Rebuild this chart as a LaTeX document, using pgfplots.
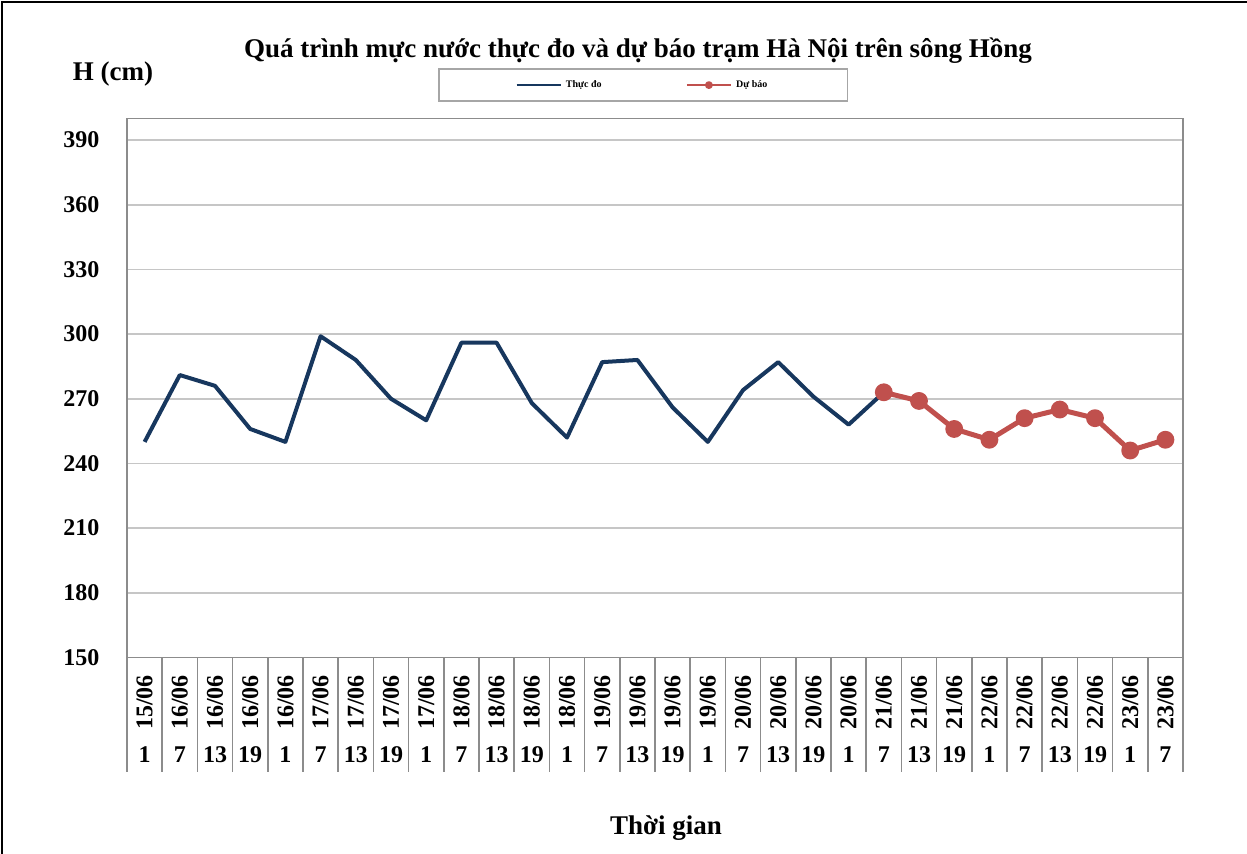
\documentclass[border=0pt]{standalone}
\usepackage{pgfplots}
\pgfplotsset{compat=1.18}
\usepackage{fontspec}
\setmainfont{Liberation Serif}
\definecolor{navy}{HTML}{17375E}
\definecolor{fred}{HTML}{C0504D}
\newcommand{\rb}[1]{\rotatebox{90}{#1}}
\begin{document}
\begin{tikzpicture}[font=\bfseries]
\useasboundingbox (-63.5pt,-98.25pt) rectangle (560pt,328.75pt);
\draw[black, line width=1.2pt] (-62.5pt,-99pt) -- (-62.5pt,327.8pt) -- (561pt,327.8pt);
\begin{axis}[
  at={(0,0)}, anchor=south west, scale only axis,
  width=528pt, height=269.5pt,
  xmin=0, xmax=30, ymin=150, ymax=400,
  ytick={150,180,...,390},
  /pgf/number format/assume math mode=true,
  ymajorgrids, grid style={gray!45, line width=0.8pt},
  axis line style={gray!90, line width=0.8pt},
  ytick style={draw=none},
  tick label style={font=\fontsize{12}{14}\selectfont\bfseries},
  yticklabel style={xshift=-6pt},
  xtick={0.5,1.5,...,29.5},
  xticklabels={\rb{15/06},\rb{16/06},\rb{16/06},\rb{16/06},\rb{16/06},\rb{17/06},\rb{17/06},\rb{17/06},\rb{17/06},\rb{18/06},\rb{18/06},\rb{18/06},\rb{18/06},\rb{19/06},\rb{19/06},\rb{19/06},\rb{19/06},\rb{20/06},\rb{20/06},\rb{20/06},\rb{20/06},\rb{21/06},\rb{21/06},\rb{21/06},\rb{22/06},\rb{22/06},\rb{22/06},\rb{22/06},\rb{23/06},\rb{23/06}},
  xticklabel style={anchor=north, yshift=-1pt},
  major x tick style={draw=none},
  minor xtick={0,1,...,30},
  minor x tick style={gray!90, line width=0.8pt},
  minor tick length=57pt,
  tick align=outside,
  xtick pos=bottom,
  extra x ticks={0.5,1.5,...,29.5},
  extra x tick labels={1,7,13,19,1,7,13,19,1,7,13,19,1,7,13,19,1,7,13,19,1,7,13,19,1,7,13,19,1,7},
  extra x tick style={major tick length=0pt, xticklabel style={yshift=-40pt}},
  legend columns=2,
  legend style={at={(axis description cs:0.489,1.062)}, anchor=center, draw=gray!70, line width=0.8pt,
    font=\fontsize{5}{6}\selectfont\bfseries, inner xsep=38pt, inner ysep=3.5pt,
    /tikz/every even column/.append style={column sep=40pt}},
  legend image code/.code={\draw[mark repeat=2,mark phase=2,#1, line width=1.3pt, mark size=1.3pt] plot coordinates {(0pt,0pt) (11pt,0pt) (22pt,0pt)};},
]
\addplot[navy, line width=2pt, line join=round] coordinates {
(0.5,250) (1.5,281) (2.5,276) (3.5,256) (4.5,250) (5.5,299) (6.5,288) (7.5,270)
(8.5,260) (9.5,296) (10.5,296) (11.5,268) (12.5,252) (13.5,287) (14.5,288) (15.5,266)
(16.5,250) (17.5,274) (18.5,287) (19.5,271) (20.5,258) (21.5,273)};
\addlegendentry{Thực đo}
\addplot[fred, line width=2.5pt, line join=round, mark=*, mark size=3.2pt, mark options={fill=fred, draw=fred}] coordinates {
(21.5,273) (22.5,269) (23.5,256) (24.5,251) (25.5,261) (26.5,265) (27.5,261) (28.5,246) (29.5,251)};
\addlegendentry{Dự báo}
\end{axis}
\node[font=\fontsize{13.5}{16}\selectfont\bfseries] at (255.5pt,303.5pt) {Quá trình mực nước thực đo và dự báo trạm Hà Nội trên sông Hồng};
\node[font=\fontsize{13.5}{16}\selectfont\bfseries] at (-7pt,291.5pt) {H (cm)};
\node[font=\fontsize{13.5}{16}\selectfont\bfseries] at (269.5pt,-85.25pt) {Thời gian};
\end{tikzpicture}
\end{document}
